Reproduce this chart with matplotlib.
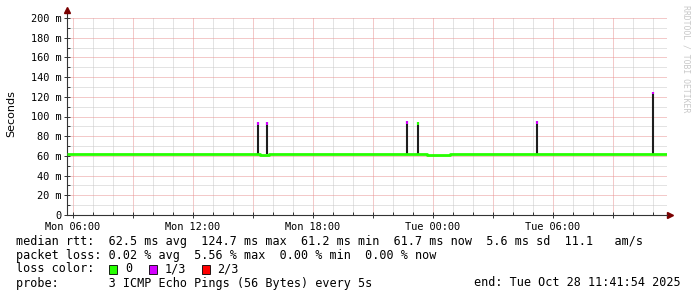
import matplotlib
matplotlib.use("Agg")
import matplotlib.pyplot as plt
import matplotlib.dates as mdates
from matplotlib.patches import Rectangle
from matplotlib.ticker import FixedLocator, MultipleLocator, FuncFormatter
from datetime import datetime, timedelta

# time window (30 hours ending at the probe end time)
end_time = datetime(2025, 10, 28, 11, 41, 54)
start_time = end_time - timedelta(hours=30)

# median rtt (ms), step changes
median_times = ["10-27 05:42", "10-27 12:18", "10-27 15:21", "10-27 15:48", "10-27 18:18",
                "10-27 18:54", "10-27 19:21", "10-27 22:48", "10-27 23:21", "10-27 23:42",
                "10-28 00:51", "10-28 05:42", "10-28 06:06", "10-28 09:00", "10-28 09:21",
                "10-28 10:45", "10-28 11:06", "10-28 11:41"]
median_ms = [62.0, 61.7, 61.4, 61.8, 62.1, 61.5, 62.0, 61.6, 61.9, 61.4,
             62.0, 61.5, 62.0, 61.5, 62.0, 61.5, 62.2, 62.2]

# outlier spikes: time, top of smoke (ms), loss colour at top
spike_times = ["10-27 15:15", "10-27 15:42", "10-27 22:42", "10-27 23:15", "10-28 05:12", "10-28 11:00"]
spike_top = [94, 94, 95, 94, 95, 125]
spike_loss = ["1/3", "1/3", "1/3", "0", "1/3", "1/3"]

loss_labels = ["0", "1/3", "2/3"]
loss_colors = ["#26ff00", "#d400ff", "#ff0000"]

y_ticks = [0, 20, 40, 60, 80, 100, 120, 140, 160, 180, 200]
y_labels = ["0", "20 m", "40 m", "60 m", "80 m", "100 m", "120 m", "140 m", "160 m", "180 m", "200 m"]

legend_lines = [
    "median rtt:  62.5 ms avg  124.7 ms max  61.2 ms min  61.7 ms now  5.6 ms sd  11.1   am/s",
    "packet loss: 0.02 % avg  5.56 % max  0.00 % min  0.00 % now",
    "loss color:",
    "probe:       3 ICMP Echo Pings (56 Bytes) every 5s",
]
end_text = "end: Tue Oct 28 11:41:54 2025"


def to_dt(s):
    return datetime.strptime("2025-" + s, "%Y-%m-%d %H:%M")


W, H = 697, 297
fig = plt.figure(figsize=(W / 100, H / 100), dpi=100)
fig.patch.set_facecolor("white")


def fx(px):
    return px / W


def fy(py):
    return 1 - py / H


ax = fig.add_axes([fx(67), fy(215), 600 / W, 197 / H])
ax.set_xlim(start_time, end_time)
ax.set_ylim(0, 200)

mono = "DejaVu Sans Mono"
axis_col = "#333333"
arrow_col = "#7a0000"

# grid
ax.yaxis.set_major_locator(FixedLocator(y_ticks))
ax.yaxis.set_minor_locator(MultipleLocator(10))
ax.set_yticklabels(y_labels, family=mono, fontsize=7.4)
ax.xaxis.set_major_locator(mdates.HourLocator(byhour=range(0, 24, 3)))
ax.xaxis.set_minor_locator(mdates.HourLocator())


def xfmt(v, pos):
    d = mdates.num2date(v)
    return d.strftime("%a %H:%M") if d.hour % 6 == 0 else ""


ax.xaxis.set_major_formatter(FuncFormatter(xfmt))
for lab in ax.get_xticklabels():
    lab.set_family(mono)
ax.tick_params(axis="x", labelsize=7.4, pad=3)
ax.tick_params(axis="both", which="major", direction="inout", length=4, width=0.7, color=axis_col)
ax.tick_params(axis="both", which="minor", direction="in", length=2, width=0.7, color=axis_col)
ax.tick_params(axis="y", pad=2)

ax.grid(which="minor", color="#c8c8c8", linestyle=(0, (1, 1)), linewidth=0.72)
ax.grid(which="major", color="#e89494", linestyle=(0, (1, 1)), linewidth=0.72)
ax.set_axisbelow(True)

for s in ["top", "right"]:
    ax.spines[s].set_visible(False)
for s in ["left", "bottom"]:
    ax.spines[s].set_color(axis_col)
    ax.spines[s].set_linewidth(0.8)

# extend axes with arrows
ax.plot([0, 0], [1, 1 + 8 / 197], transform=ax.transAxes, color=axis_col, lw=0.8, clip_on=False)
ax.plot([0], [1 + 8 / 197], transform=ax.transAxes, marker="^", color=arrow_col, ms=4, clip_on=False)
ax.plot([1, 1 + 3 / 600], [0, 0], transform=ax.transAxes, color=axis_col, lw=0.8, clip_on=False)
ax.plot([1 + 3 / 600], [0], transform=ax.transAxes, marker=">", color=arrow_col, ms=4, clip_on=False)

# smoke spikes
sp_t = [to_dt(s) for s in spike_times]
base = 62.0
ax.vlines(sp_t, base, spike_top, color="#1e1e1e", linewidth=1.5, zorder=3)
for t, top, loss in zip(sp_t, spike_top, spike_loss):
    c = loss_colors[loss_labels.index(loss)]
    ax.vlines([t], top - 2.5, top, color=c, linewidth=1.5, zorder=4)

# median line
m_t = [to_dt(s) for s in median_times]
ax.plot(m_t, median_ms, drawstyle="steps-post", color=loss_colors[0], lw=2.0, zorder=5,
        solid_capstyle="butt")

fig.text(fx(11), fy(114), "Seconds", rotation=90, ha="center", va="center",
         family="DejaVu Sans", fontsize=8)

# watermark
fig.text(fx(686), fy(5), "RRDTOOL / TOBI OETIKER", rotation=-90, ha="center", va="top",
         family=mono, fontsize=5.9, color="#c8c8c8")

# legend text
rows = [241, 255, 269, 283]
fs = 8.5
for line, y in zip(legend_lines, rows):
    fig.text(fx(16), fy(y), line, family=mono, fontsize=fs, ha="left", va="center")
fig.text(fx(681), fy(rows[3]), end_text, family=mono, fontsize=fs, ha="right", va="center")

cw = 7.1
box_cols = [13, 18.6, 26]
for col, lab, c in zip(box_cols, loss_labels, loss_colors):
    bx = 16 + col * cw + 1
    fig.add_artist(Rectangle((fx(bx), fy(rows[2] + 4.5)), 8 / W, 9 / H, transform=fig.transFigure,
                             facecolor=c, edgecolor="black", linewidth=0.6))
    fig.text(fx(bx + 16), fy(rows[2]), lab, family=mono, fontsize=fs, ha="left", va="center")

fig.savefig("out.png", dpi=100, facecolor="white")
